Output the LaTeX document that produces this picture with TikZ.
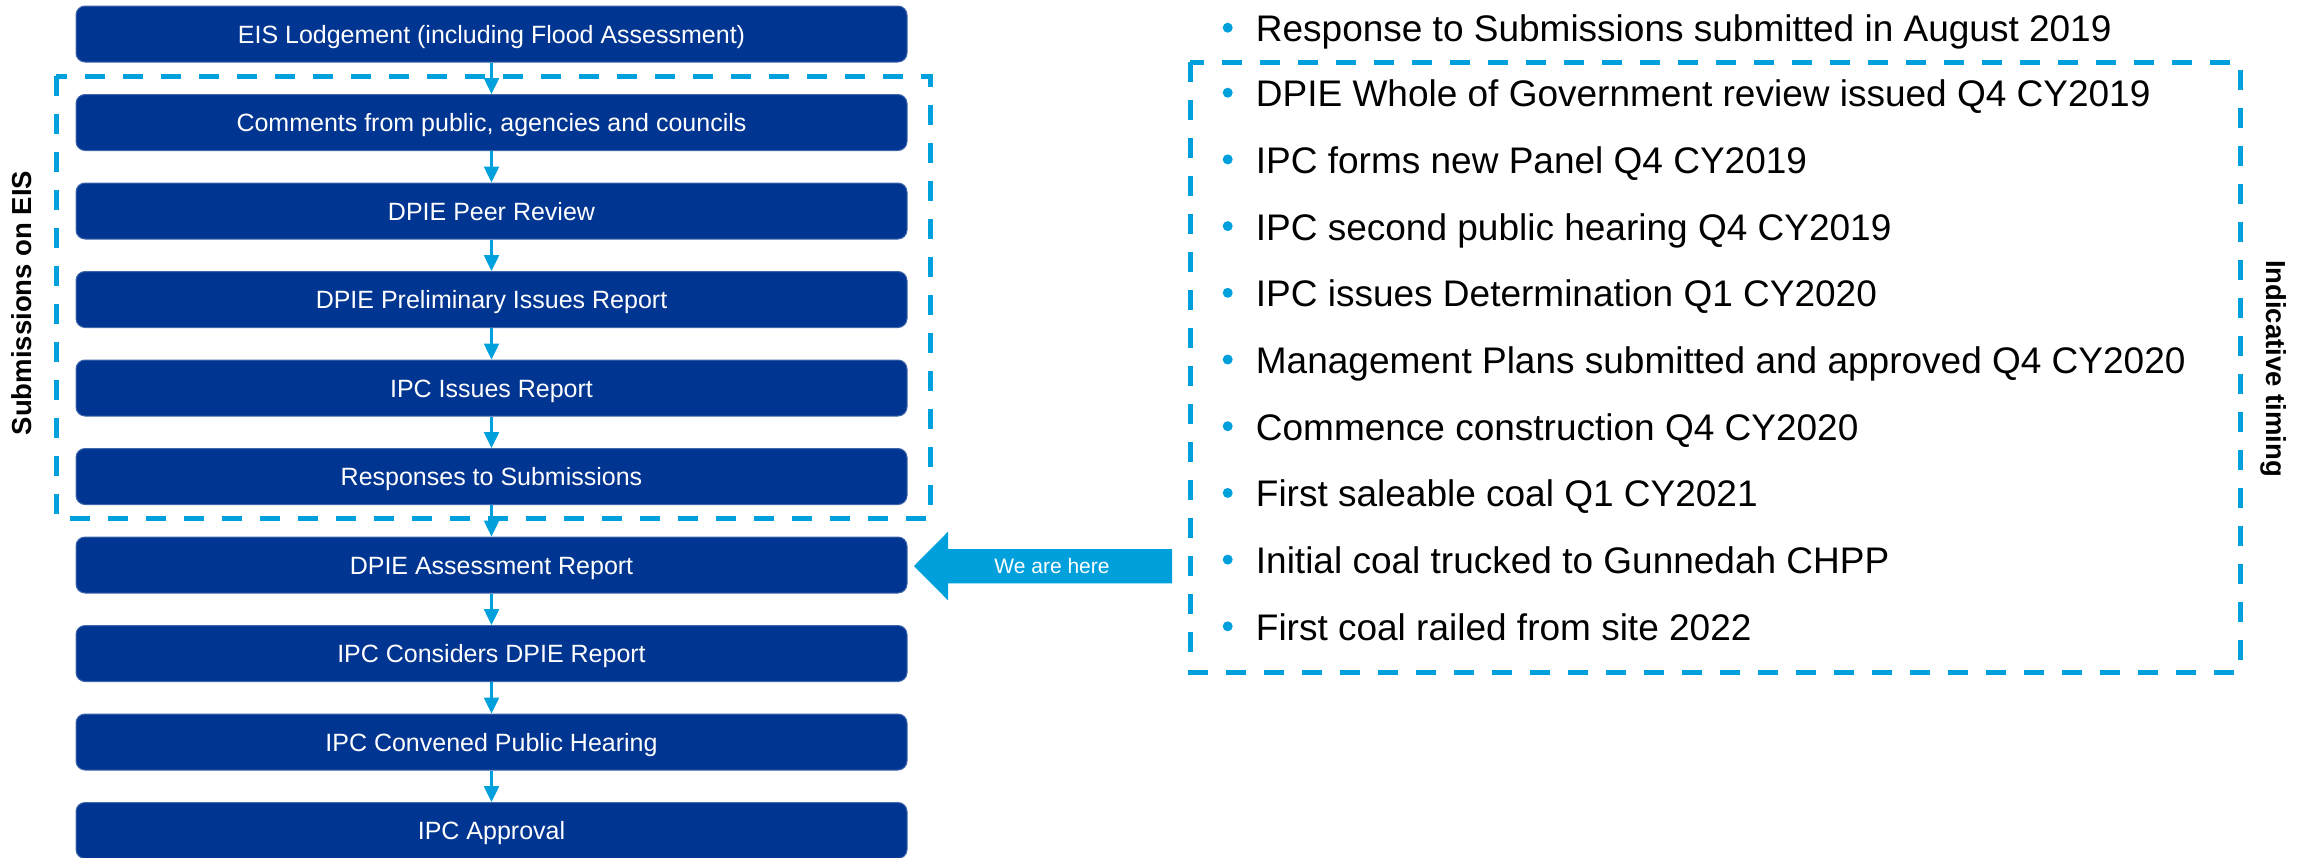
\documentclass[tikz,border=0pt]{standalone}
\usepackage{fontspec}
\setmainfont{Liberation Sans}
\usetikzlibrary{arrows.meta}

\definecolor{stageblue}{RGB}{0,53,145}
\definecolor{lineblue}{RGB}{0,160,220}

\tikzset{
  stage/.style={draw=stageblue!75!white, line width=1pt, fill=stageblue, rounded corners=9pt,
    minimum width=831pt, minimum height=56pt, inner sep=0pt, text=white,
    text height=18pt, text depth=0pt, font=\fontsize{25}{30}\selectfont},
  frame/.style={draw=lineblue, line width=5pt, dash pattern=on 20pt off 18pt},
  side/.style={inner sep=0pt, font=\bfseries\fontsize{27.5}{33}\selectfont},
  item/.style={anchor=base west, inner sep=0pt, font=\fontsize{37}{44}\selectfont},
}

\begin{document}
\begin{tikzpicture}[x=1pt, y=-1pt, >={Triangle[length=16pt,width=15pt]}]
\useasboundingbox (0,0) rectangle (2305,857);

% approval steps
\foreach \t [count=\i] in {EIS Lodgement (including Flood Assessment),
  {Comments from public, agencies and councils}, DPIE Peer Review,
  DPIE Preliminary Issues Report, IPC Issues Report, Responses to Submissions,
  DPIE Assessment Report, IPC Considers DPIE Report, IPC Convened Public Hearing,
  IPC Approval}
{
    \node[stage] (s\i) at (491.5, {34+88.5*(\i-1)}) {\t};
}

\draw[frame] (56,76) rectangle (930,518.5);
\node[side, rotate=90] (subs) at (22,303) {Submissions on EIS};

\foreach \i [count=\j from 2] in {1,...,8,9}
    \draw[->, lineblue, line width=2.5pt] (s\i) -- (s\j);

% current position
\fill[lineblue] (914,566) -- (948,531.7) -- (948,549) -- (1172,549) -- (1172,583.3)
    -- (948,583.3) -- (948,600.3) -- cycle;
\node[text=white, inner sep=0pt, text height=15pt, text depth=0pt,
    font=\fontsize{21}{25}\selectfont] (here) at (1052,566) {We are here};

% timing list
\foreach \t [count=\i] in {Response to Submissions submitted in August 2019,
  DPIE Whole of Government review issued Q4 CY2019, IPC forms new Panel Q4 CY2019,
  IPC second public hearing Q4 CY2019, IPC issues Determination Q1 CY2020,
  Management Plans submitted and approved Q4 CY2020, Commence construction Q4 CY2020,
  First saleable coal Q1 CY2021, Initial coal trucked to Gunnedah CHPP,
  First coal railed from site 2022}
{
    \pgfmathsetmacro\yb{\i==1 ? 41.7 : 106.7+66.7*(\i-2)}
    \fill[lineblue] (1227.7,{\yb-14}) circle (5pt);
    \node[item] (t\i) at (1255.7,\yb) {\t};
}

\draw[frame] (1190,62.3) rectangle (2240,672.3);
\node[side, rotate=-90] (timing) at (2274,368.5) {Indicative timing};
\end{tikzpicture}
\end{document}
